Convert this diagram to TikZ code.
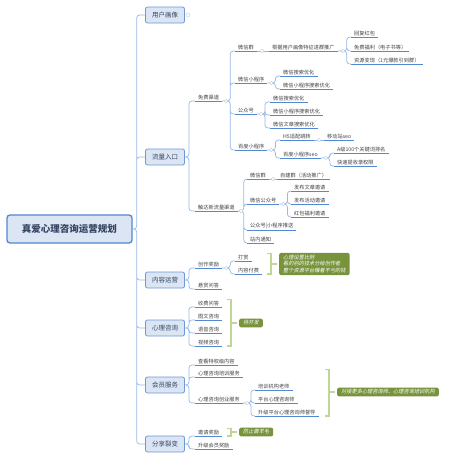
\documentclass[tikz,border=0pt]{standalone}
\usepackage{xcolor}
\usepackage{fontspec}
\setmainfont{Noto Sans CJK SC}
\newfontfamily\slantcjk[FakeSlant=0.2]{Noto Sans CJK SC}
\usepackage{tikz}
\usetikzlibrary{calc}

\definecolor{linkblue}{RGB}{150,184,230}
\definecolor{lineblue}{RGB}{84,136,210}
\definecolor{topicfill}{RGB}{219,229,243}
\definecolor{topicdraw}{RGB}{108,152,214}
\definecolor{rootdraw}{RGB}{82,134,208}
\definecolor{roottext}{RGB}{52,68,98}
\definecolor{notefill}{RGB}{119,147,60}
\definecolor{bracegreen}{RGB}{190,214,150}
\definecolor{foldgray}{RGB}{190,202,220}

\tikzset{
  root/.style={draw=rootdraw, line width=1.3pt, fill=topicfill, rounded corners=3pt,
    minimum width=125pt, minimum height=28pt, text=roottext,
    font=\fontsize{9.5pt}{11pt}\selectfont\bfseries},
  topic/.style={draw=topicdraw, line width=0.8pt, fill=topicfill, rounded corners=2pt,
    minimum width=39pt, minimum height=16pt, inner sep=1pt, text=roottext,
    font=\fontsize{6.5pt}{8pt}\selectfont},
  uline/.style={draw=lineblue, line width=0.8pt},
  sub/.style={anchor=south west, inner xsep=3pt, inner ysep=1.2pt, text=black!75,
    font=\fontsize{5.2pt}{6pt}\selectfont,
    append after command={(\tikzlastnode.south west) edge[uline] (\tikzlastnode.south east)}},
  link/.style={draw=linkblue, line width=0.7pt, rounded corners=3pt},
  fold/.style={draw=foldgray, fill=white, line width=0.4pt},
  note/.style={anchor=west, fill=notefill, rounded corners=2pt, text=white, align=left,
    inner xsep=4pt, inner ysep=2pt, font=\slantcjk\fontsize{5.2pt}{6.8pt}\selectfont},
  brace/.style={draw=bracegreen, line width=1.4pt},
}

\begin{document}
\begin{tikzpicture}[x=1pt,y=-1pt]
  \useasboundingbox (0,0) rectangle (450,459);
  % Mitte
  \node[root] (root) at (69.5,229) {真爱心理咨询运营规划};
  % Hauptaeste
  \node[topic] (user) at (165,15) {用户画像};
  \node[topic] (traffic) at (165,157) {流量入口};
  \node[topic] (content) at (165,280) {内容运营};
  \node[topic] (consult) at (165,328) {心理咨询};
  \node[topic] (member) at (165,385) {会员服务};
  \node[topic] (share) at (165,444) {分享裂变};
  \draw[link] (root.east) -- ++(4,0) |- (user.west)
    (root.east) -- ++(4,0) |- (traffic.west)
    (root.east) -- ++(4,0) |- (content.west)
    (root.east) -- ++(4,0) |- (consult.west)
    (root.east) -- ++(4,0) |- (member.west)
    (root.east) -- ++(4,0) |- (share.west);
  \draw[fold] ($(user.east)+(3,0)$) circle[radius=2];

  % Flussquellen
  \node[sub] (free) at (195,101) {免费渠道};
  \node[sub] (reach) at (195,211) {触达新流量渠道};
  \draw[link] (traffic.east) -- ++(4,0) |- (free.south west)
    (traffic.east) -- ++(4,0) |- (reach.south west);

  % free channels
  \node[sub] (wxgroup) at (235,51) {微信群};
  \node[sub] (wxapp) at (235,83) {微信小程序};
  \node[sub] (mpacc) at (235,114) {公众号};
  \node[sub] (bdapp) at (235,150) {百度小程序};
  \draw[link] (free.south east) -- ++(8,0) |- (wxgroup.south west)
    (free.south east) -- ++(8,0) |- (wxapp.south west)
    (free.south east) -- ++(8,0) |- (mpacc.south west)
    (free.south east) -- ++(8,0) |- (bdapp.south west);

  \node[sub] (grpush) at (269,51) {根据用户画像特征进群推广};
  \draw[link] (wxgroup.south east) -- (grpush.south west);
  \node[sub] (redpack) at (351,37) {回复红包};
  \node[sub] (freebie) at (351,51) {免费福利（电子书等）};
  \node[sub] (cashout) at (351,64) {资源变现（1元爆款引到群）};
  \draw[link] (grpush.south east) -- ++(9,0) |- (redpack.south west)
    (grpush.south east) -- ++(9,0) |- (freebie.south west)
    (grpush.south east) -- ++(9,0) |- (cashout.south west);

  \node[sub] (wxseoa) at (280,76) {微信搜索优化};
  \node[sub] (wxseob) at (280,89) {微信小程序搜索优化};
  \draw[link] (wxapp.south east) -- ++(8,0) |- (wxseoa.south west)
    (wxapp.south east) -- ++(8,0) |- (wxseob.south west);

  \node[sub] (mpseoa) at (270,102) {微信搜索优化};
  \node[sub] (mpseob) at (270,115) {微信小程序搜索优化};
  \node[sub] (mpseoc) at (270,128) {微信文章搜索优化};
  \draw[link] (mpacc.south east) -- ++(8,0) |- (mpseoa.south west)
    (mpacc.south east) -- ++(8,0) |- (mpseob.south west)
    (mpacc.south east) -- ++(8,0) |- (mpseoc.south west);

  \node[sub] (hfive) at (280,140) {H5适配跳转};
  \node[sub] (bdseo) at (280,158) {百度小程序seo};
  \draw[link] (bdapp.south east) -- ++(8,0) |- (hfive.south west)
    (bdapp.south east) -- ++(8,0) |- (bdseo.south west);
  \node[sub] (mobseo) at (324,140) {移动站seo};
  \draw[link] (hfive.south east) -- (mobseo.south west);
  \node[sub] (rank) at (334,153) {A级100个关键词排名};
  \node[sub] (index) at (334,166) {快速提收录权限};
  \draw[link] (bdseo.south east) -- ++(9,0) |- (rank.south west)
    (bdseo.south east) -- ++(9,0) |- (index.south west);

  % reach channels
  \node[sub] (wxgroupb) at (247,179) {微信群};
  \node[sub] (wxmp) at (247,204) {微信公众号};
  \node[sub] (mppush) at (247,230) {公众号|小程序推送};
  \node[sub] (sitemsg) at (247,243) {站内通知};
  \draw[link] (reach.south east) -- ++(6,0) |- (wxgroupb.south west)
    (reach.south east) -- ++(6,0) |- (wxmp.south west)
    (reach.south east) -- ++(6,0) |- (mppush.south west)
    (reach.south east) -- ++(6,0) |- (sitemsg.south west);
  \node[sub] (selfgrp) at (277,179) {自建群（活动推广）};
  \draw[link] (wxgroupb.south east) -- (selfgrp.south west);
  \node[sub] (inva) at (291,191) {发布文章邀请};
  \node[sub] (invb) at (291,204) {发布活动邀请};
  \node[sub] (invc) at (291,217) {红包福利邀请};
  \draw[link] (wxmp.south east) -- ++(8,0) |- (inva.south west)
    (wxmp.south east) -- ++(8,0) |- (invb.south west)
    (wxmp.south east) -- ++(8,0) |- (invc.south west);

  % content
  \node[sub] (reward) at (195,268) {创作奖励};
  \node[sub] (bounty) at (195,289) {悬赏问答};
  \draw[link] (content.east) -- ++(4,0) |- (reward.south west)
    (content.east) -- ++(4,0) |- (bounty.south west);
  \node[sub] (tip) at (235,261) {打赏};
  \node[sub] (paid) at (235,274) {内容付费};
  \draw[link] (reward.south east) -- ++(8,0) |- (tip.south west)
    (reward.south east) -- ++(8,0) |- (paid.south west);
  \node[note] (paynote) at (279,264) {心理设置比例\\看的别的技术分给创作者\\整个资源平台赚着不亏的钱};
  \draw[brace] ($(paynote.west |- tip.north)+(-12,0)$) -- ++(4,0) |- ($(paynote.west |- paid.south)+(-12,0)$);
  \draw[brace] ($(paynote.west)+(-8,0)$) -- ($(paynote.west)+(-2,0)$);

  % consulting
  \node[sub] (fee) at (195,307) {收费问答};
  \node[sub] (textc) at (195,320) {图文咨询};
  \node[sub] (voice) at (195,333) {语音咨询};
  \node[sub] (video) at (195,346) {视频咨询};
  \draw[link] (consult.east) -- ++(4,0) |- (fee.south west)
    (consult.east) -- ++(4,0) |- (textc.south west)
    (consult.east) -- ++(4,0) |- (voice.south west)
    (consult.east) -- ++(4,0) |- (video.south west);
  \node[note] (devnote) at (239,323) {待开发};
  \draw[brace] ($(devnote.west |- fee.north)+(-12,0)$) -- ++(4,0) |- ($(devnote.west |- video.south)+(-12,0)$);
  \draw[brace] ($(devnote.west)+(-8,0)$) -- ($(devnote.west)+(-2,0)$);

  % member
  \node[sub] (view) at (195,365) {查看特权级内容};
  \node[sub] (train) at (195,377) {心理咨询培训服务};
  \node[sub] (startup) at (195,403) {心理咨询创业服务};
  \draw[link] (member.east) -- ++(4,0) |- (view.south west)
    (member.east) -- ++(4,0) |- (train.south west)
    (member.east) -- ++(4,0) |- (startup.south west);
  \node[sub] (teacher) at (255,390) {培训机构老师};
  \node[sub] (counsel) at (255,403) {平台心理咨询师};
  \node[sub] (superv) at (255,416) {升级平台心理咨询师督导};
  \draw[link] (startup.south east) -- ++(8,0) |- (teacher.south west)
    (startup.south east) -- ++(8,0) |- (counsel.south west)
    (startup.south east) -- ++(8,0) |- (superv.south west);
  \node[note] (memnote) at (337,392) {对接更多心理咨询师、心理咨询培训机构};
  \draw[brace] ($(memnote.west |- train.north)+(-12,0)$) -- ++(4,0) |- ($(memnote.west |- superv.south)+(-12,0)$);
  \draw[brace] ($(memnote.west)+(-8,0)$) -- ($(memnote.west)+(-2,0)$);

  % sharing
  \node[sub] (invite) at (195,436) {邀请奖励};
  \node[sub] (upgrade) at (195,449) {升级会员奖励};
  \draw[link] (share.east) -- ++(4,0) |- (invite.south west)
    (share.east) -- ++(4,0) |- (upgrade.south west);
  \node[note] (sharenote) at (239,432) {防止薅羊毛};
  \draw[brace] ($(sharenote.west |- invite.north)+(-12,0)$) -- ++(4,0) |- ($(sharenote.west |- invite.south)+(-12,0)$);
  \draw[brace] ($(sharenote.west)+(-8,0)$) -- ($(sharenote.west)+(-2,0)$);

  % fold marks
  \draw[fold] ($(free.south east)+(4,0)$) circle[radius=1.8];
  \draw[fold] ($(reach.south east)+(3,0)$) circle[radius=1.8];
  \draw[fold] ($(wxgroup.south east)+(5,0)$) circle[radius=1.8];
  \draw[fold] ($(grpush.south east)+(5,0)$) circle[radius=1.8];
  \draw[fold] ($(wxapp.south east)+(4,0)$) circle[radius=1.8];
  \draw[fold] ($(mpacc.south east)+(4,0)$) circle[radius=1.8];
  \draw[fold] ($(bdapp.south east)+(4,0)$) circle[radius=1.8];
  \draw[fold] ($(hfive.south east)+(5,0)$) circle[radius=1.8];
  \draw[fold] ($(bdseo.south east)+(5,0)$) circle[radius=1.8];
  \draw[fold] ($(wxgroupb.south east)+(4,0)$) circle[radius=1.8];
  \draw[fold] ($(wxmp.south east)+(4,0)$) circle[radius=1.8];
  \draw[fold] ($(reward.south east)+(4,0)$) circle[radius=1.8];
  \draw[fold] ($(startup.south east)+(4,0)$) circle[radius=1.8];
\end{tikzpicture}
\end{document}
